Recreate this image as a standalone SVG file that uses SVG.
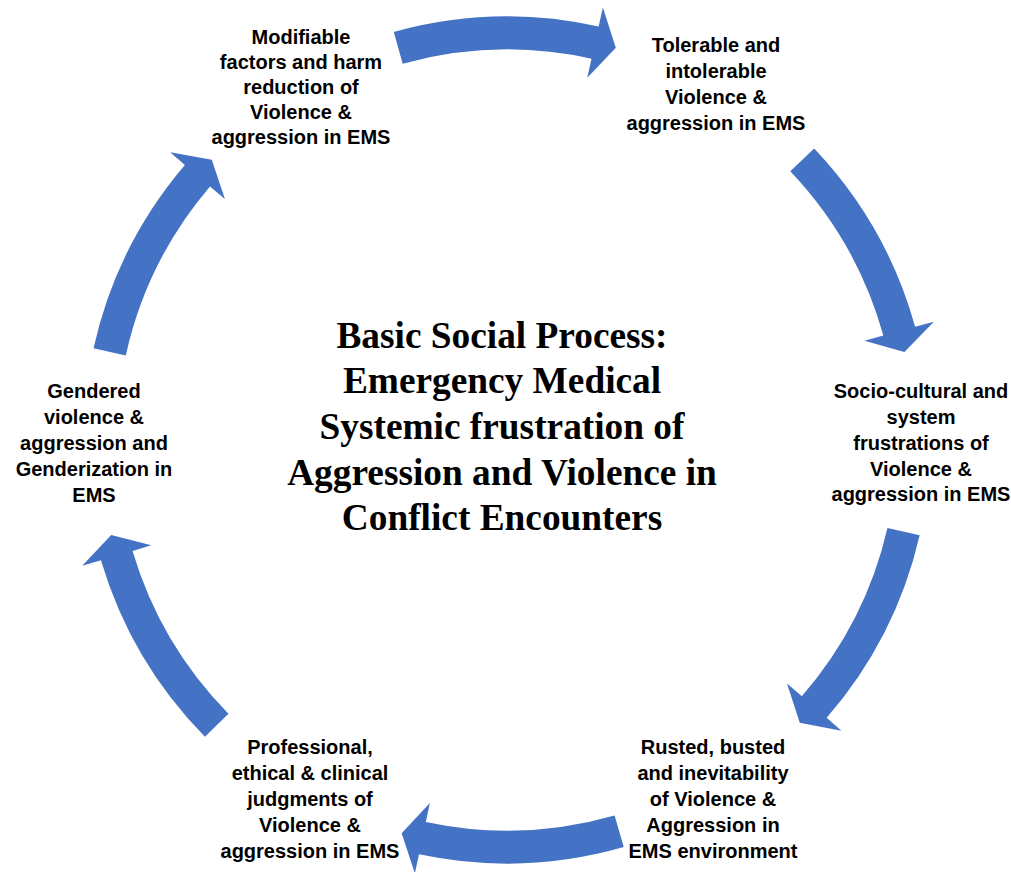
<svg xmlns="http://www.w3.org/2000/svg" xmlns:xlink="http://www.w3.org/1999/xlink" width="1011" height="872" viewBox="0 0 1011 872">
<style>
.arrow{fill:#4472C4;stroke:none}
.lbl{font-family:"Liberation Sans",Arial,sans-serif;font-weight:bold;font-size:20px;fill:#000;text-anchor:middle}
.title{font-family:"Liberation Serif","Times New Roman",serif;font-weight:bold;font-size:37.33px;fill:#000;text-anchor:middle}
</style>
<defs>
<path id="arc" class="arrow" d="M 393.8 31.9 A 423.5 423.5 0 0 1 598.6 26.5 L 602.9 7.5 L 615.8 47.8 L 587.3 77.8 L 591.5 58.7 A 390.5 390.5 0 0 0 402.7 63.7 Z"/>
</defs>
<rect width="1011" height="872" fill="#fff"/>
<g id="connectors">
<use xlink:href="#arc" href="#arc"/>
<use xlink:href="#arc" href="#arc" transform="rotate(62 507 440)"/>
<use xlink:href="#arc" href="#arc" transform="rotate(118.5 507 440)"/>
<use xlink:href="#arc" href="#arc" transform="rotate(179.5 507 440)"/>
<use xlink:href="#arc" href="#arc" transform="rotate(241 507 440)"/>
<use xlink:href="#arc" href="#arc" transform="rotate(298 507 440)"/>
</g>
<g id="center-title">
<text class="title" x="502" y="347.5">Basic Social Process:</text>
<text class="title" x="502" y="393">Emergency Medical</text>
<text class="title" x="502" y="438.5">Systemic frustration of</text>
<text class="title" x="502" y="485">Aggression and Violence in</text>
<text class="title" x="502" y="530">Conflict Encounters</text>
</g>
<g id="node-modifiable">
<text class="lbl" x="301" y="43.5">Modifiable</text>
<text class="lbl" x="301" y="68.5">factors and harm</text>
<text class="lbl" x="301" y="93.5">reduction of</text>
<text class="lbl" x="301" y="118.5">Violence &amp;</text>
<text class="lbl" x="301" y="143.5">aggression in EMS</text>
</g>
<g id="node-tolerable">
<text class="lbl" x="716" y="52">Tolerable and</text>
<text class="lbl" x="716" y="78">intolerable</text>
<text class="lbl" x="716" y="104">Violence &amp;</text>
<text class="lbl" x="716" y="130">aggression in EMS</text>
</g>
<g id="node-sociocultural">
<text class="lbl" x="921" y="398">Socio-cultural and</text>
<text class="lbl" x="921" y="424">system</text>
<text class="lbl" x="921" y="450">frustrations of</text>
<text class="lbl" x="921" y="475.5">Violence &amp;</text>
<text class="lbl" x="921" y="501">aggression in EMS</text>
</g>
<g id="node-rusted">
<text class="lbl" x="713" y="754">Rusted, busted</text>
<text class="lbl" x="713" y="780">and inevitability</text>
<text class="lbl" x="713" y="806">of Violence &amp;</text>
<text class="lbl" x="713" y="832">Aggression in</text>
<text class="lbl" x="713" y="857.5">EMS environment</text>
</g>
<g id="node-professional">
<text class="lbl" x="310" y="754">Professional,</text>
<text class="lbl" x="310" y="780">ethical &amp; clinical</text>
<text class="lbl" x="310" y="806">judgments of</text>
<text class="lbl" x="310" y="832">Violence &amp;</text>
<text class="lbl" x="310" y="857.5">aggression in EMS</text>
</g>
<g id="node-gendered">
<text class="lbl" x="94" y="398">Gendered</text>
<text class="lbl" x="94" y="424">violence &amp;</text>
<text class="lbl" x="94" y="450">aggression and</text>
<text class="lbl" x="94" y="475.5">Genderization in</text>
<text class="lbl" x="94" y="501.5">EMS</text>
</g>
</svg>
